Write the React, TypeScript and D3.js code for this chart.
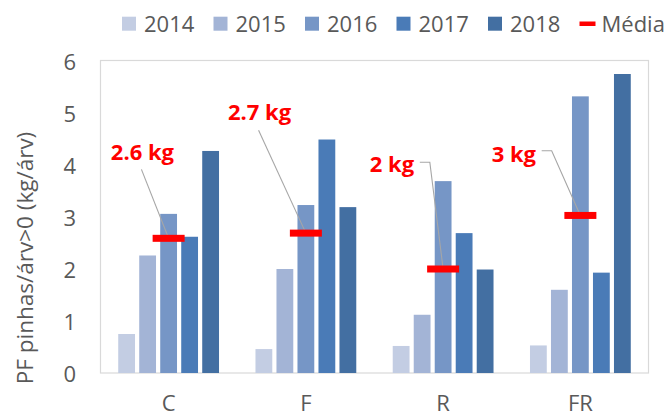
import React from "react";
import * as d3 from "d3";

const categories = ["C", "F", "R", "FR"];
const years = ["2014", "2015", "2016", "2017", "2018"];
const v2014 = [0.75, 0.46, 0.52, 0.53];
const v2015 = [2.26, 2.0, 1.12, 1.6];
const v2016 = [3.06, 3.23, 3.69, 5.32];
const v2017 = [2.62, 4.49, 2.69, 1.93];
const v2018 = [4.27, 3.19, 1.99, 5.75];
const means = [2.59, 2.69, 2.0, 3.03];
const meanLabels = ["2.6 kg", "2.7 kg", "2 kg", "3 kg"];
const yTicks = [0, 1, 2, 3, 4, 5, 6];
const seriesValues = [v2014, v2015, v2016, v2017, v2018];
const colors = ["#C3CDE3", "#A3B4D6", "#7696C6", "#4A7BB7", "#436FA2"];

// annotation layout, relative to the mean marker centre
const labelLayout = [
  { dx: -57.8, dy: -78.7, path: [[-27.2, -68.9]] },
  { dx: -78, dy: -113, path: [[-47.3, -102.8]] },
  { dx: -73.3, dy: -97, path: [[-23.3, -106.7], [-13.3, -106.7]] },
  { dx: -88.7, dy: -53.7, path: [[-38.7, -64.7], [-28.7, -64.7]] },
];

const W = 671;
const H = 416;
const left = 100;
const right = 649;
const top = 61;
const bottom = 373;
const FONT = "'Open Sans', 'Liberation Sans', sans-serif";
const GRAY = "#595959";

export default function App() {
  const x0 = d3.scaleBand<string>().domain(categories).range([left, right]);
  const x1 = d3
    .scaleBand<string>()
    .domain(years)
    .range([0, x0.bandwidth()])
    .paddingInner(0.2)
    .paddingOuter(0.868);
  const y = d3.scaleLinear().domain([0, 6]).range([bottom, top]);

  const markerW = 32;
  const markerH = 7;

  return (
    <svg
      width={W}
      height={H}
      style={{ position: "absolute", left: 0, top: 0, background: "#fff" }}
      fontFamily={FONT}
    >
      <rect x={0} y={0} width={W} height={H} fill="#fff" />
      {/* plot frame */}
      <rect
        x={left + 0.5}
        y={60.5}
        width={right - left - 1}
        height={bottom - 60.5}
        fill="none"
        stroke="#D9D9D9"
        strokeWidth={1.2}
      />
      {/* y tick labels */}
      {yTicks.map((t) => (
        <text
          key={t}
          x={76}
          y={y(t)}
          textAnchor="end"
          dominantBaseline="central"
          fontSize={22}
          fill={GRAY}
        >
          {t}
        </text>
      ))}
      {/* y axis title */}
      <text
        transform={`translate(33, ${258}) rotate(-90)`}
        textAnchor="middle"
        fontSize={22.5}
        fill={GRAY}
      >
        PF pinhas/árv&gt;0 (kg/árv)
      </text>
      {/* bars */}
      {categories.map((c, ci) => (
        <g key={c} transform={`translate(${x0(c)},0)`}>
          {years.map((yr, yi) => {
            const v = seriesValues[yi][ci];
            return (
              <rect
                key={yr}
                x={x1(yr)}
                y={y(v)}
                width={x1.bandwidth()}
                height={y(0) - y(v)}
                fill={colors[yi]}
              />
            );
          })}
        </g>
      ))}
      {/* x labels */}
      {categories.map((c) => (
        <text
          key={c}
          x={(x0(c) as number) + x0.bandwidth() / 2}
          y={410.5}
          textAnchor="middle"
          fontSize={22}
          fill={GRAY}
        >
          {c}
        </text>
      ))}
      {/* mean markers, leaders and labels */}
      {categories.map((c, ci) => {
        const mx = (x0(c) as number) + (x1("2016") as number) + x1.bandwidth() / 2;
        const my = y(means[ci]);
        const lay = labelLayout[ci];
        const pts: [number, number][] = [
          ...lay.path.map((p) => [mx + p[0], my + p[1]] as [number, number]),
          [mx, my],
        ];
        const line = d3.line()(pts) as string;
        return (
          <g key={c}>
            <path d={line} fill="none" stroke="#A6A6A6" strokeWidth={1.1} />
            <rect
              x={mx - markerW / 2}
              y={my - markerH / 2}
              width={markerW}
              height={markerH}
              fill="#FF0000"
            />
            <text
              x={mx + lay.dx}
              y={my + lay.dy}
              fontSize={22}
              fontWeight="bold"
              fill="#FF0000"
            >
              {meanLabels[ci]}
            </text>
          </g>
        );
      })}
      {/* legend */}
      {years.map((yr, i) => (
        <g key={yr} transform={`translate(${122 + i * 91.5},0)`}>
          <rect x={0} y={16.7} width={14} height={14} fill={colors[i]} />
          <text x={22} y={31.5} fontSize={22} fill={GRAY}>
            {yr}
          </text>
        </g>
      ))}
      <g transform={`translate(${122 + 5 * 91.5},0)`}>
        <rect x={0} y={21.5} width={16} height={4.5} fill="#FF0000" />
        <text x={22} y={31.5} fontSize={22} fill={GRAY}>
          Média
        </text>
      </g>
    </svg>
  );
}
